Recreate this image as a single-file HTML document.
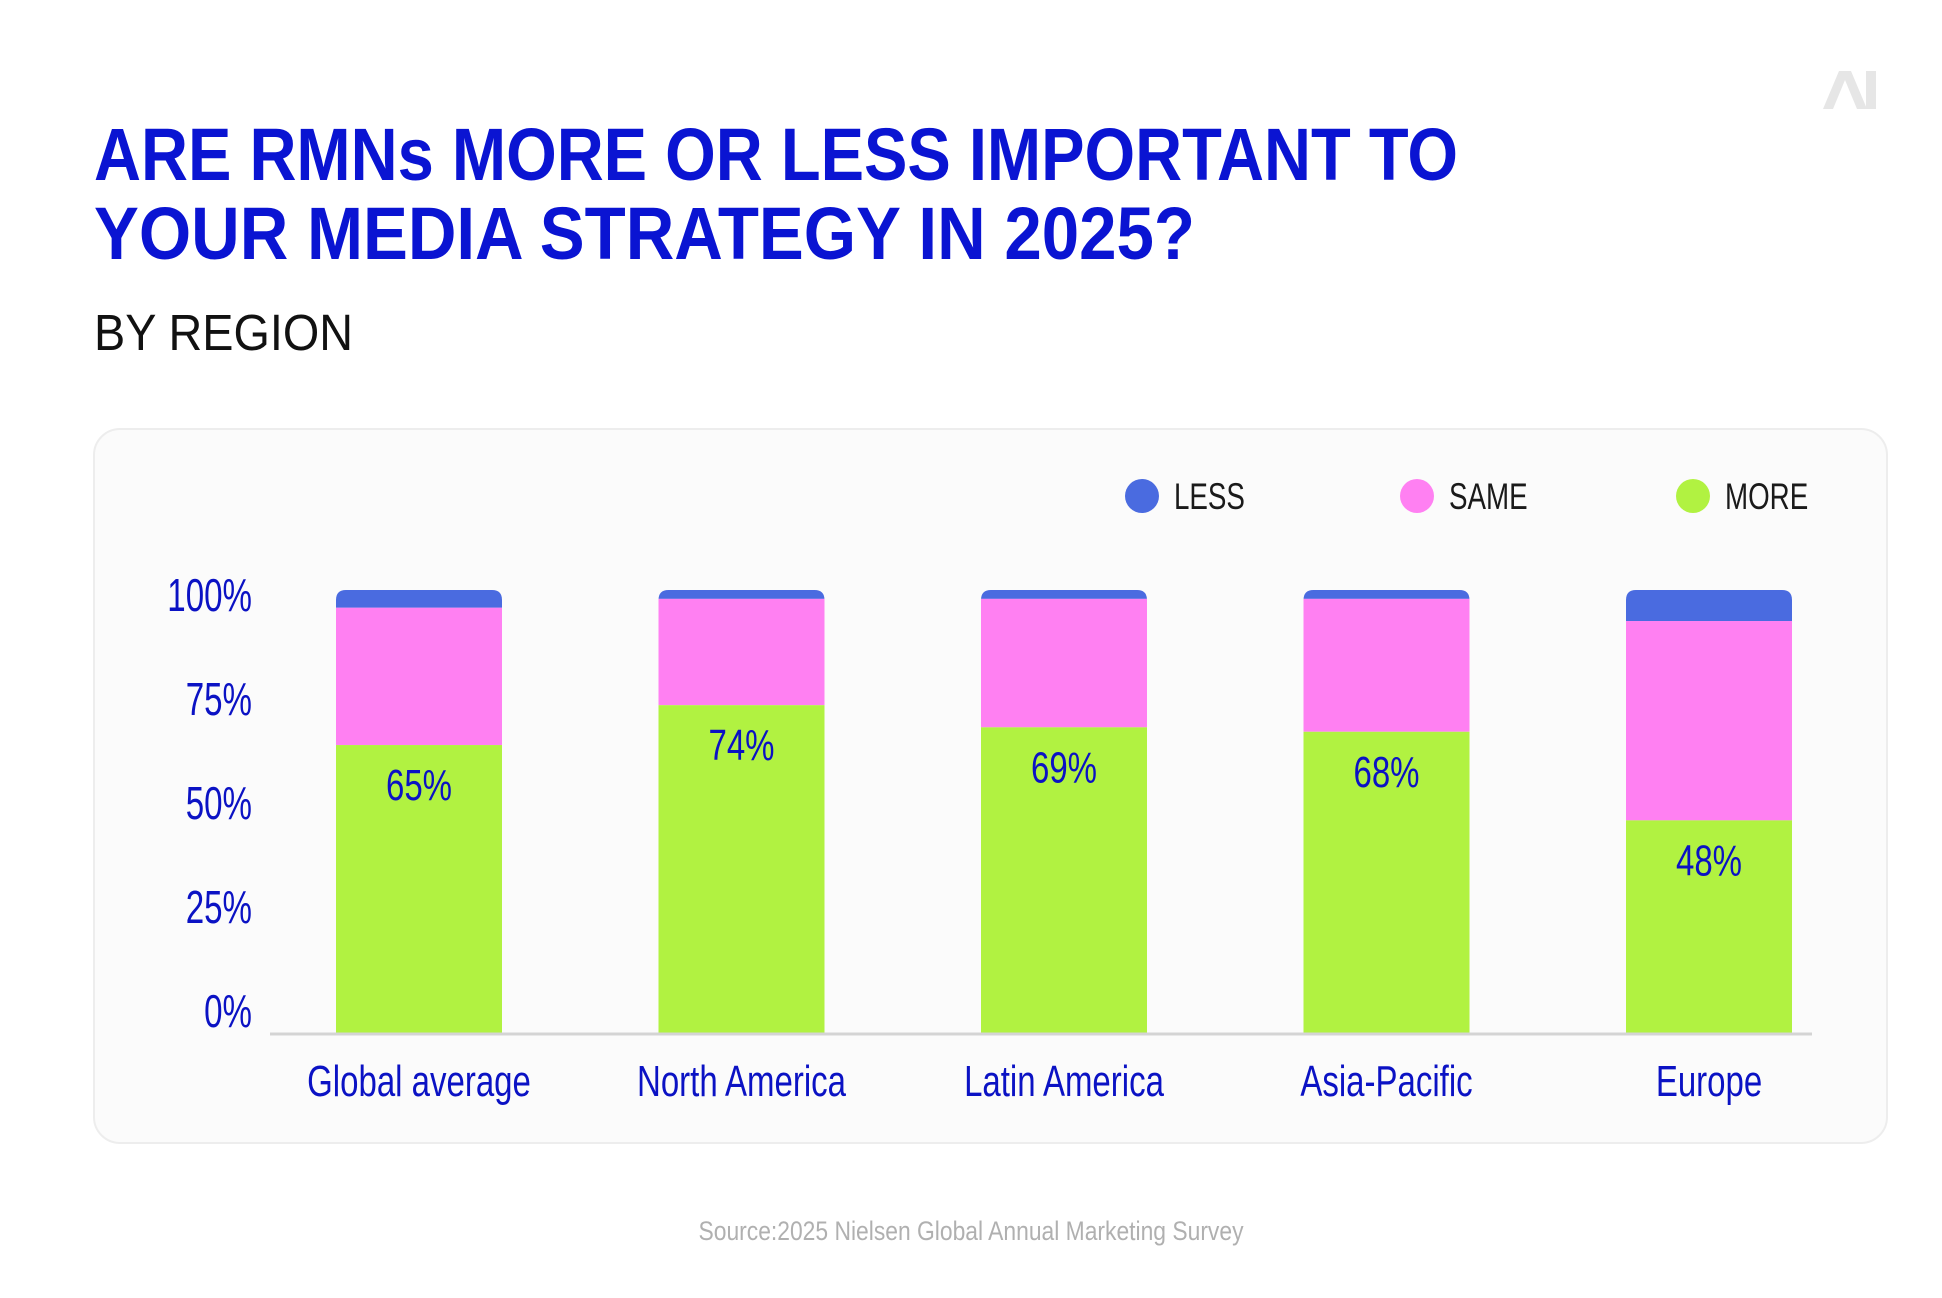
<!DOCTYPE html>
<html><head><meta charset="utf-8"><style>
html,body{margin:0;padding:0;background:#fff;}
svg{display:block;font-family:"Liberation Sans Narrow","Liberation Sans",sans-serif;}
</style></head><body>
<svg id="chart" width="1942" height="1298" viewBox="0 0 1942 1298">
  <text x="94" y="180" font-size="74" font-weight="700" fill="#0a14d2" textLength="1364" lengthAdjust="spacingAndGlyphs" font-family="Liberation Sans, sans-serif">ARE RMNs MORE OR LESS IMPORTANT TO</text>
  <text x="94" y="259" font-size="74" font-weight="700" fill="#0a14d2" textLength="1101" lengthAdjust="spacingAndGlyphs" font-family="Liberation Sans, sans-serif">YOUR MEDIA STRATEGY IN 2025?</text>
  <text x="94" y="350" font-size="51" fill="#111" textLength="259" lengthAdjust="spacingAndGlyphs" font-family="Liberation Sans, sans-serif">BY REGION</text>
  <g fill="#e6e6e6">
    <polygon points="1823,109 1839,71 1851,71 1867,109 1857,109 1845,80 1833,109"/>
    <rect x="1866" y="71" width="10" height="38"/>
  </g>
  <rect x="94" y="429" width="1793" height="714" rx="26" fill="#fbfbfb" stroke="#ededed" stroke-width="2"/>
  <g id="legend"></g>
  <g id="yticks"></g>
  <g id="bars"></g>
  <line x1="270" y1="1034" x2="1812" y2="1034" stroke="#d4d4d4" stroke-width="3"/>
  <g id="xlabels"></g>
  <text x="971" y="1240" text-anchor="middle" font-size="27" fill="#b0b0b0" textLength="545" lengthAdjust="spacingAndGlyphs">Source:2025 Nielsen Global Annual Marketing Survey</text>
</svg>
<script>
const categories = ["Global average","North America","Latin America","Asia-Pacific","Europe"];
const moreVals = [65,74,69,68,48];
const sameVals = [31,24,29,30,45];
const lessVals = [4,2,2,2,7];
const yTicks = [0,25,50,75,100];
const yTickLabels = ["0%","25%","50%","75%","100%"];
const seriesNames = ["LESS","SAME","MORE"];

const NS = "http://www.w3.org/2000/svg";
const colors = {LESS:"#4a6be0", SAME:"#ff80f2", MORE:"#b1f241"};
const base = 1033, top100 = 590;
function y(v){ return base - v/100*(base-top100); }
function yLab(v){ return 1011 - v/100*416; }
const x0 = 419, pitch = 322.5, bw = 166;
function xc(i){ return x0 + i*pitch; }
function mk(tag, attrs, parent){ const e=document.createElementNS(NS,tag); for(const k in attrs) e.setAttribute(k,attrs[k]); parent.appendChild(e); return e; }
function ntext(parent, x, yy, anchor, size, fill, sx){
  return mk('text',{x:0,y:0,'text-anchor':anchor,'font-size':size,fill:fill,transform:`translate(${x},${yy}) scale(${sx},1)`},parent);
}

const yt = document.getElementById('yticks');
yTicks.forEach((v,i)=>{
  const t = ntext(yt, 252, yLab(v)+16, 'end', 46, '#0b12c4', 0.72);
  t.textContent = yTickLabels[i];
  
  
});

const bars = document.getElementById('bars');
categories.forEach((c,i)=>{
  const g = mk('g',{},bars);
  
  
  const left = xc(i)-bw/2;
  const m = moreVals[i], s = sameVals[i], l = lessVals[i];
  const total = m+s+l;
  const lr = mk('path',{d:`M${left},${y(m+s)} V${y(total)+10} Q${left},${y(total)} ${left+10},${y(total)} H${left+bw-10} Q${left+bw},${y(total)} ${left+bw},${y(total)+10} V${y(m+s)} Z`,fill:colors.LESS},g);
  
  
  const sr = mk('rect',{x:left,y:y(m+s),width:bw,height:y(m)-y(m+s),fill:colors.SAME},g);
  
  
  const mr = mk('rect',{x:left,y:y(m),width:bw,height:y(0)-y(m),fill:colors.MORE},g);
  
  
  const vl = ntext(g, xc(i), y(m)+55, 'middle', 44, '#0b12c4', 0.75);
  vl.textContent = m + '%';
  
  
});

const xl = document.getElementById('xlabels');
categories.forEach((c,i)=>{
  const t = ntext(xl, xc(i), 1096, 'middle', 44, '#0b12c4', 0.75);
  t.textContent = c;
  
  
});

const lg = document.getElementById('legend');
const legX = [1142,1417,1693];
seriesNames.forEach((n,i)=>{
  const g = mk('g',{},lg);
  
  
  mk('circle',{cx:legX[i],cy:496,r:17,fill:colors[n]},g);
  const t = ntext(g, legX[i]+32, 509, 'start', 37, '#1a1a1a', 0.75);
  t.textContent = n;
});
</script>
</body></html>
